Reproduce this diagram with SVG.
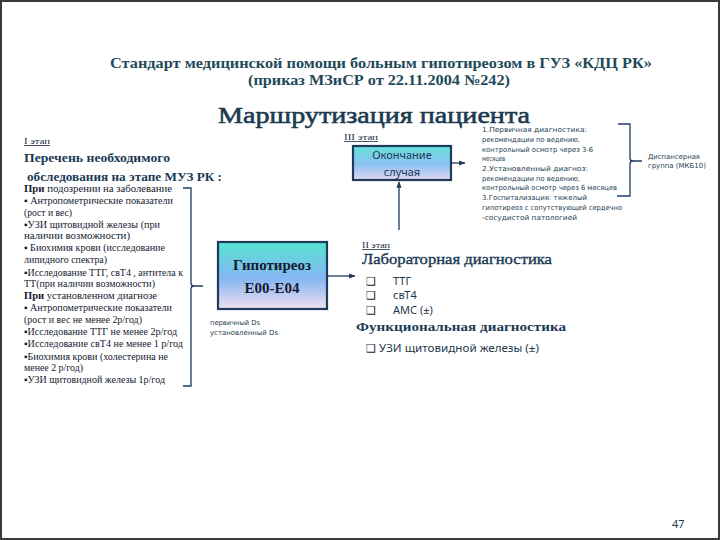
<svg xmlns="http://www.w3.org/2000/svg" width="720" height="540" viewBox="0 0 720 540">
<defs>
<linearGradient id="gBox" x1="0" y1="0" x2="0" y2="1">
<stop offset="0" stop-color="#55e3d3"/>
<stop offset="0.55" stop-color="#86b6f2"/>
<stop offset="1" stop-color="#f2dff0"/>
</linearGradient>
<linearGradient id="gEnd" x1="0" y1="0" x2="0" y2="1">
<stop offset="0" stop-color="#66e2dc"/>
<stop offset="0.55" stop-color="#8dc0f0"/>
<stop offset="1" stop-color="#e3d9f3"/>
</linearGradient>
<marker id="arr" viewBox="0 0 10 10" refX="9" refY="5" markerWidth="5" markerHeight="5" orient="auto">
<path d="M0,1 L10,5 L0,9 z" fill="#1f3b5c"/>
</marker>
</defs>
<style>
.title{font-family:"Liberation Serif",serif;font-weight:bold;fill:#1f4a58}
.head{font-family:"Liberation Serif",serif;fill:#1b3a50;stroke:#1b3a50;stroke-width:0.6}
.hb{font-family:"Liberation Serif",serif;font-weight:bold;fill:#1b3a55}
.hn{font-family:"Liberation Serif",serif;fill:#1b3a55;stroke:#1b3a55;stroke-width:0.35}
.body{font-family:"Liberation Serif",serif;font-size:10px;fill:#141a30}
.stage{font-family:"Liberation Serif",serif;font-size:8px;fill:#1b2a40;text-decoration:underline}
.small{font-family:"DejaVu Sans","Noto Sans",sans-serif;font-size:7px;fill:#1d3c4f}
.sans{font-family:"Noto Sans","DejaVu Sans",sans-serif;fill:#1f3a4f}
.chk{font-family:"DejaVu Sans",sans-serif;font-size:11px;fill:#141a30}
.box{stroke:#1f3b5c;stroke-width:2.2}
.conn{stroke:#1f3b5c;stroke-width:1.3;fill:none}
</style>
<rect x="0" y="0" width="720" height="540" fill="#ffffff"/>
<rect x="1" y="1" width="718" height="538" fill="none" stroke="#3a3a3a" stroke-width="2"/>

<g id="titles">
<text class="title" x="110" y="68" font-size="15" textLength="542" lengthAdjust="spacingAndGlyphs">Стандарт медицинской помощи больным гипотиреозом  в  ГУЗ «КДЦ РК»</text>
<text class="title" x="248" y="85" font-size="15" textLength="262" lengthAdjust="spacingAndGlyphs">(приказ МЗиСР от 22.11.2004 №242)</text>
<text class="head" x="218" y="123" font-size="24" textLength="312" lengthAdjust="spacingAndGlyphs">Маршрутизация пациента</text>
</g>

<g id="stage1">
<text class="stage" x="24" y="144" textLength="26" lengthAdjust="spacingAndGlyphs">I этап</text>
<text class="hb" x="24" y="162" font-size="13" textLength="146" lengthAdjust="spacingAndGlyphs">Перечень необходимого</text>
<text class="hb" x="27" y="181" font-size="13" textLength="195" lengthAdjust="spacingAndGlyphs">обследования на этапе МУЗ РК :</text>
<g class="body">
<text x="24" y="192" textLength="148" lengthAdjust="spacingAndGlyphs"><tspan font-weight="bold">При</tspan>  подозрении на заболевание</text>
<text x="24" y="204" textLength="149" lengthAdjust="spacingAndGlyphs">▪ Антропометрические показатели</text>
<text x="24" y="216" textLength="48" lengthAdjust="spacingAndGlyphs">(рост и вес)</text>
<text x="24" y="228" textLength="136" lengthAdjust="spacingAndGlyphs">▪УЗИ щитовидной железы (при</text>
<text x="24" y="239" textLength="106" lengthAdjust="spacingAndGlyphs">наличии возможности)</text>
<text x="24" y="251" textLength="141" lengthAdjust="spacingAndGlyphs">▪ Биохимия крови (исследование</text>
<text x="24" y="263" textLength="83" lengthAdjust="spacingAndGlyphs">липидного спектра)</text>
<text x="24" y="276" textLength="159" lengthAdjust="spacingAndGlyphs">▪Исследование ТТГ, свТ4 , антитела к</text>
<text x="24" y="287" textLength="131" lengthAdjust="spacingAndGlyphs">ТТ(при наличии возможности)</text>
<text x="24" y="299" textLength="133" lengthAdjust="spacingAndGlyphs"><tspan font-weight="bold">При</tspan> установленном диагнозе</text>
<text x="24" y="311" textLength="148" lengthAdjust="spacingAndGlyphs">▪ Антропометрические показатели</text>
<text x="24" y="323" textLength="118" lengthAdjust="spacingAndGlyphs">(рост и вес не менее 2р/год)</text>
<text x="24" y="335" textLength="153" lengthAdjust="spacingAndGlyphs">▪Исследование ТТГ не менее 2р/год</text>
<text x="24" y="347" textLength="159" lengthAdjust="spacingAndGlyphs">▪Исследование  свТ4 не менее 1 р/год</text>
<text x="24" y="360" textLength="144" lengthAdjust="spacingAndGlyphs">▪Биохимия крови (холестерина не</text>
<text x="24" y="371" textLength="59" lengthAdjust="spacingAndGlyphs">менее 2 р/год)</text>
<text x="24" y="383" textLength="141" lengthAdjust="spacingAndGlyphs">▪УЗИ щитовидной железы 1р/год</text>
</g>
</g>

<g id="hypothyroid">
<rect class="box" x="218" y="242" width="109" height="67" fill="url(#gBox)"/>
<text x="272" y="270" text-anchor="middle" font-family="Liberation Serif,serif" font-weight="bold" font-size="15" fill="#141a30">Гипотиреоз</text>
<text x="272" y="293" text-anchor="middle" font-family="Liberation Serif,serif" font-weight="bold" font-size="15" fill="#141a30">Е00-Е04</text>
<text class="small" x="210" y="325" font-size="6.5" textLength="50" lengthAdjust="spacingAndGlyphs">первичный Ds</text>
<text class="small" x="210" y="335" font-size="6.5" textLength="68" lengthAdjust="spacingAndGlyphs">установленный Ds</text>
</g>

<g id="stage3">
<text class="stage" x="344" y="140" textLength="34" lengthAdjust="spacingAndGlyphs">III этап</text>
<rect class="box" x="353" y="146" width="98" height="34" fill="url(#gEnd)"/>
<text class="sans" x="402" y="159" text-anchor="middle" font-size="11">Окончание</text>
<text class="sans" x="402" y="176" text-anchor="middle" font-size="11">случая</text>
</g>

<g id="stage2">
<text class="stage" x="362" y="248" textLength="28" lengthAdjust="spacingAndGlyphs">II этап</text>
<text class="hn" x="362" y="264" font-size="14" textLength="190" lengthAdjust="spacingAndGlyphs">Лабораторная диагностика</text>
<text class="chk" x="366" y="285">❑</text>
<text class="sans" x="393" y="285" font-size="11">ТТГ</text>
<text class="chk" x="366" y="299">❑</text>
<text class="sans" x="393" y="299" font-size="11">свТ4</text>
<text class="chk" x="366" y="314">❑</text>
<text class="sans" x="393" y="314" font-size="11">АМС (±)</text>
<text class="hb" x="356" y="331" font-size="13" textLength="210" lengthAdjust="spacingAndGlyphs">Функциональная диагностика</text>
<text class="chk" x="366" y="352">❑</text>
<text class="sans" x="379" y="352" font-size="11" textLength="160" lengthAdjust="spacingAndGlyphs">УЗИ щитовидной железы (±)</text>
</g>

<g id="followup">
<g class="small">
<text x="482" y="132" textLength="105" lengthAdjust="spacingAndGlyphs">1.Первичная диагностика:</text>
<text x="482" y="142" textLength="98" lengthAdjust="spacingAndGlyphs">рекомендации по ведению,</text>
<text x="482" y="152" textLength="111" lengthAdjust="spacingAndGlyphs">контрольный осмотр через 3-6</text>
<text x="482" y="161" textLength="23" lengthAdjust="spacingAndGlyphs">месяцев</text>
<text x="482" y="171" textLength="106" lengthAdjust="spacingAndGlyphs">2.Установленный диагноз:</text>
<text x="482" y="181" textLength="98" lengthAdjust="spacingAndGlyphs">рекомендации по ведению,</text>
<text x="482" y="190" textLength="135" lengthAdjust="spacingAndGlyphs">контрольный осмотр через 6 месяцев</text>
<text x="482" y="200" textLength="105" lengthAdjust="spacingAndGlyphs">3.Госпитализация: тяжелый</text>
<text x="482" y="210" textLength="140" lengthAdjust="spacingAndGlyphs">гипотиреоз с сопутствующей сердечно</text>
<text x="482" y="220" textLength="95" lengthAdjust="spacingAndGlyphs">-сосудистой патологией</text>
</g>
</g>

<g id="dispensary">
<text class="small" x="648" y="159" textLength="52" lengthAdjust="spacingAndGlyphs">Диспансерная</text>
<text class="small" x="648" y="168" textLength="58" lengthAdjust="spacingAndGlyphs">группа (МКБ10)</text>
</g>

<g id="page">
<text class="sans" x="672" y="528" font-size="11" fill="#2f5a72">47</text>
</g>

<g id="connectors">
<path class="conn" d="M183,188 H191 V283 Q191,286 194,286 H203 M194,286 Q191,286 191,289 V386 H183"/>
<path class="conn" d="M618,124 H630 V158 Q630,161 633,161 H642 M633,161 Q630,161 630,164 V196 H617"/>
<line class="conn" x1="327" y1="276" x2="355" y2="276" marker-end="url(#arr)"/>
<line class="conn" x1="399" y1="230" x2="399" y2="182" marker-end="url(#arr)"/>
<line class="conn" x1="451" y1="163" x2="465" y2="163" stroke-width="2" marker-end="url(#arr)"/>
</g>
</svg>
